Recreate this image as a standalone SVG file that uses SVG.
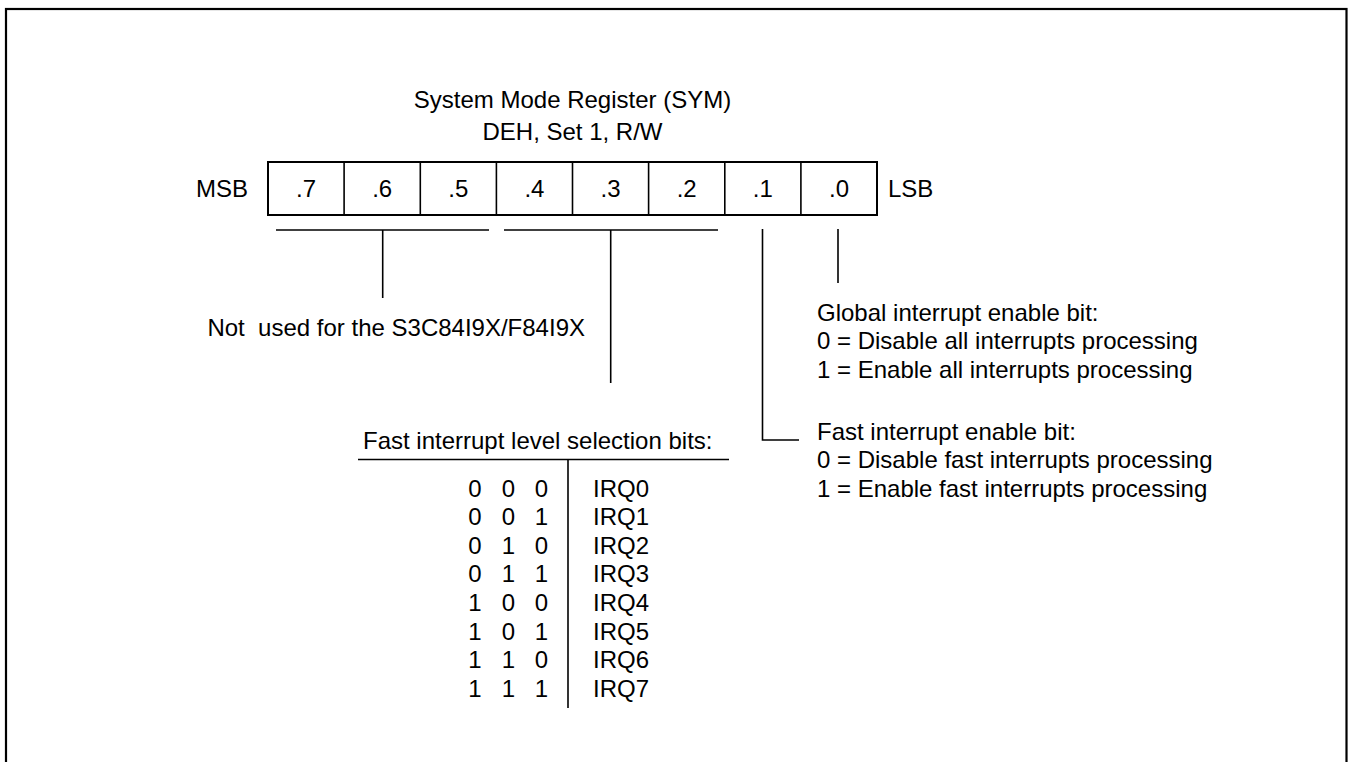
<svg xmlns="http://www.w3.org/2000/svg" width="1352" height="762" viewBox="0 0 1352 762">
<style>
text{font-family:"Liberation Sans",Arial,sans-serif;font-size:24px;fill:#000;white-space:pre}
.c{text-anchor:middle}
.e{text-anchor:end}
.ln{stroke:#000;stroke-width:1.6;fill:none}
.bx{stroke:#000;stroke-width:2;fill:#fff}
</style>
<rect x="6" y="9" width="1340.5" height="800" fill="none" stroke="#000" stroke-width="2.2"/>
<g id="title">
<text class="c" x="572.5" y="108">System Mode Register (SYM)</text>
<text class="c" x="572.5" y="140">DEH, Set 1, R/W</text>
</g>
<g id="register">
<text class="e" x="248" y="197">MSB</text>
<rect class="bx" x="268" y="162" width="609" height="53"/>
<g class="ln">
<line x1="344.1" y1="162" x2="344.1" y2="215"/>
<line x1="420.3" y1="162" x2="420.3" y2="215"/>
<line x1="496.4" y1="162" x2="496.4" y2="215"/>
<line x1="572.5" y1="162" x2="572.5" y2="215"/>
<line x1="648.6" y1="162" x2="648.6" y2="215"/>
<line x1="724.8" y1="162" x2="724.8" y2="215"/>
<line x1="800.9" y1="162" x2="800.9" y2="215"/>
</g>
<text class="c" x="306" y="197">.7</text>
<text class="c" x="382.2" y="197">.6</text>
<text class="c" x="458.3" y="197">.5</text>
<text class="c" x="534.4" y="197">.4</text>
<text class="c" x="610.6" y="197">.3</text>
<text class="c" x="686.7" y="197">.2</text>
<text class="c" x="762.8" y="197">.1</text>
<text class="c" x="839" y="197">.0</text>
<text x="888" y="197">LSB</text>
</g>
<g id="connectors" class="ln">
<line x1="276" y1="230" x2="489" y2="230"/>
<line x1="382.7" y1="230" x2="382.7" y2="298"/>
<line x1="504" y1="230" x2="718" y2="230"/>
<line x1="610.7" y1="230" x2="610.7" y2="383"/>
<polyline points="762.5,229 762.5,440 799,440"/>
<line x1="838" y1="229" x2="838" y2="283"/>
</g>
<g id="not-used">
<text class="e" x="585" y="336">Not  used for the S3C84I9X/F84I9X</text>
</g>
<g id="global-bit">
<text x="817" y="321">Global interrupt enable bit:</text>
<text x="817" y="349">0 = Disable all interrupts processing</text>
<text x="817" y="377.5">1 = Enable all interrupts processing</text>
</g>
<g id="fast-bit">
<text x="817" y="439.5">Fast interrupt enable bit:</text>
<text x="817" y="468">0 = Disable fast interrupts processing</text>
<text x="817" y="496.5">1 = Enable fast interrupts processing</text>
</g>
<g id="level-table">
<text x="363" y="449">Fast interrupt level selection bits:</text>
<line class="ln" x1="358" y1="459.5" x2="729" y2="459.5"/>
<line class="ln" x1="568" y1="459.5" x2="568" y2="708"/>
<g class="c">
<text x="475" y="496.7">0</text><text x="508.5" y="496.7">0</text><text x="541.5" y="496.7">0</text>
<text x="475" y="525.3">0</text><text x="508.5" y="525.3">0</text><text x="541.5" y="525.3">1</text>
<text x="475" y="553.9">0</text><text x="508.5" y="553.9">1</text><text x="541.5" y="553.9">0</text>
<text x="475" y="582.4">0</text><text x="508.5" y="582.4">1</text><text x="541.5" y="582.4">1</text>
<text x="475" y="611">1</text><text x="508.5" y="611">0</text><text x="541.5" y="611">0</text>
<text x="475" y="639.6">1</text><text x="508.5" y="639.6">0</text><text x="541.5" y="639.6">1</text>
<text x="475" y="668.1">1</text><text x="508.5" y="668.1">1</text><text x="541.5" y="668.1">0</text>
<text x="475" y="696.7">1</text><text x="508.5" y="696.7">1</text><text x="541.5" y="696.7">1</text>
</g>
<text x="593" y="496.7">IRQ0</text>
<text x="593" y="525.3">IRQ1</text>
<text x="593" y="553.9">IRQ2</text>
<text x="593" y="582.4">IRQ3</text>
<text x="593" y="611">IRQ4</text>
<text x="593" y="639.6">IRQ5</text>
<text x="593" y="668.1">IRQ6</text>
<text x="593" y="696.7">IRQ7</text>
</g>
</svg>
